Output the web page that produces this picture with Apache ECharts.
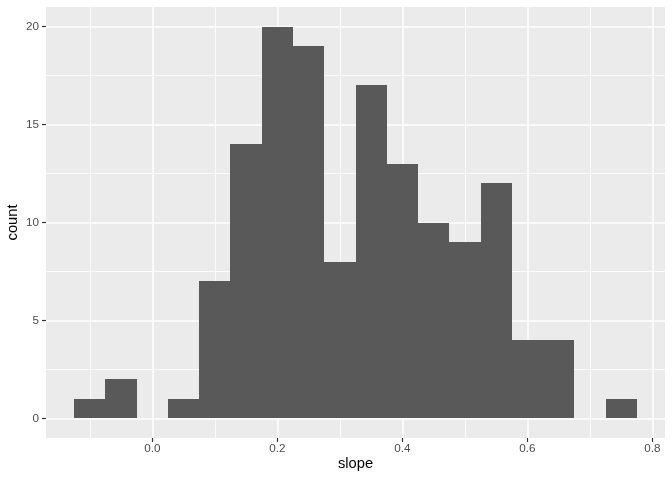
<!DOCTYPE html>
<html>
<head>
<meta charset="utf-8">
<script src="https://cdn.jsdelivr.net/npm/echarts@6/dist/echarts.min.js"></script>
<style>html,body{margin:0;padding:0;background:#fff;}#c{width:672px;height:480px;}</style>
</head>
<body>
<div id="c"></div>
<script>
// Histogram bins (centers) and counts, bin width 0.05
const binCenters = [-0.10, -0.05, 0.00, 0.05, 0.10, 0.15, 0.20, 0.25, 0.30, 0.35, 0.40, 0.45, 0.50, 0.55, 0.60, 0.65, 0.70, 0.75];
const counts     = [1, 2, 0, 1, 7, 14, 20, 19, 8, 17, 13, 10, 9, 12, 4, 4, 0, 1];
const binWidth = 0.05;
const xMajorTicks = [0, 0.2, 0.4, 0.6, 0.8];
const xMinorTicks = [-0.1, 0.1, 0.3, 0.5, 0.7];
const yMajorTicks = [0, 5, 10, 15, 20];
const yMinorTicks = [2.5, 7.5, 12.5, 17.5];

const FONT = '"Liberation Sans", Arial, sans-serif';
const data = binCenters.map((c, i) => [c - binWidth / 2, c + binWidth / 2, counts[i]]);

const chart = echarts.init(document.getElementById('c'), null, {renderer: 'canvas'});
const xMin = -0.17, xMax = 0.82, yMin = -1, yMax = 21;

chart.setOption({
  animation: false,
  backgroundColor: '#ffffff',
  textStyle: {fontFamily: FONT},
  grid: {left: 46, right: 7, top: 7, bottom: 42, show: true, backgroundColor: '#EBEBEB', borderWidth: 0, containLabel: false, outerBoundsMode: 'none'},
  xAxis: [
    {
      type: 'value', min: xMin, max: xMax, position: 'bottom',
      axisLine: {show: false, onZero: false},
      axisTick: {show: true, customValues: xMajorTicks, length: 4, lineStyle: {color: '#333333', width: 1.2}},
      axisLabel: {show: true, customValues: xMajorTicks, formatter: v => v.toFixed(1), color: '#4D4D4D', fontSize: 11.7, margin: 5, fontFamily: FONT},
      splitLine: {show: true, lineStyle: {color: '#ffffff', width: 1.5}},
      name: 'slope', nameLocation: 'middle', nameGap: 18, nameMoveOverlap: false,
      nameTextStyle: {color: '#000000', fontSize: 14.7, fontFamily: FONT}
    },
    {
      type: 'value', min: xMin, max: xMax, position: 'bottom',
      axisLine: {show: false, onZero: false},
      axisTick: {show: false, customValues: xMinorTicks},
      axisLabel: {show: false},
      splitLine: {show: true, lineStyle: {color: '#ffffff', width: 0.8}}
    }
  ],
  yAxis: [
    {
      type: 'value', min: yMin, max: yMax, position: 'left',
      axisLine: {show: false, onZero: false},
      axisTick: {show: true, customValues: yMajorTicks, length: 4, lineStyle: {color: '#333333', width: 1.2}},
      axisLabel: {show: true, customValues: yMajorTicks, color: '#4D4D4D', fontSize: 11.7, margin: 7, fontFamily: FONT},
      splitLine: {show: true, lineStyle: {color: '#ffffff', width: 1.5}},
      name: 'count', nameLocation: 'middle', nameRotate: 90, nameGap: 26, nameMoveOverlap: false,
      nameTextStyle: {color: '#000000', fontSize: 14.7, fontFamily: FONT}
    },
    {
      type: 'value', min: yMin, max: yMax, position: 'left',
      axisLine: {show: false, onZero: false},
      axisTick: {show: false, customValues: yMinorTicks},
      axisLabel: {show: false},
      splitLine: {show: true, lineStyle: {color: '#ffffff', width: 0.8}}
    }
  ],
  series: [{
    type: 'custom',
    xAxisIndex: 0, yAxisIndex: 0,
    z: 5,
    encode: {x: [0, 1], y: 2},
    data: data,
    renderItem: function (params, api) {
      const x0 = api.value(0), x1 = api.value(1), c = api.value(2);
      if (!c) return null;
      const p0 = api.coord([x0, 0]);
      const p1 = api.coord([x1, c]);
      const left = Math.round(p0[0]), right = Math.round(p1[0]);
      const top = Math.round(p1[1]), bottom = Math.round(p0[1]);
      return {
        type: 'rect',
        shape: {x: left, y: top, width: right - left, height: bottom - top},
        style: {fill: '#595959'}
      };
    }
  }]
});
</script>
</body>
</html>
